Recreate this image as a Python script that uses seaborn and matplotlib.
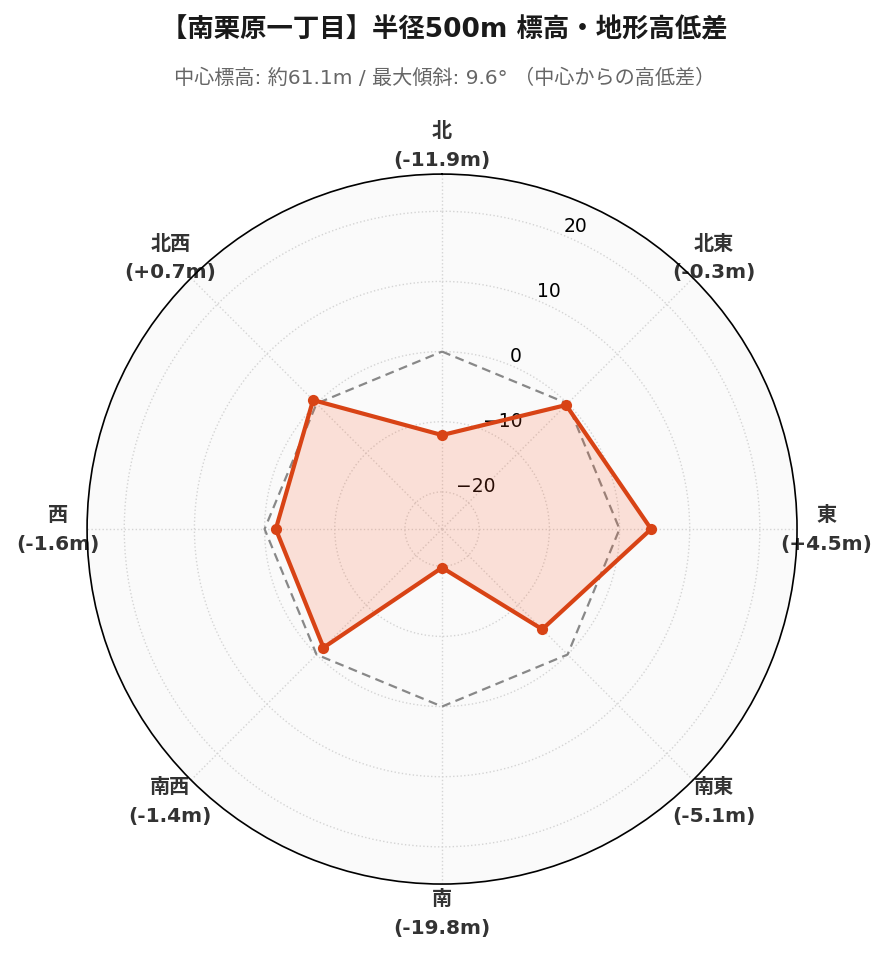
import numpy as np
import pandas as pd
import matplotlib
matplotlib.use("Agg")
import matplotlib.pyplot as plt
import seaborn as sns

# data
directions = ["北", "北東", "東", "南東", "南", "南西", "西", "北西"]
diffs = [-11.9, -0.3, 4.5, -5.1, -19.8, -1.4, -1.6, 0.7]
r_ticks = [-20, -10, 0, 10, 20]
center_elev = 61.1
max_slope = 9.6

LINE = "#d84315"
FILL = "#ff5722"

sns.set_theme(style="white")
plt.rcParams["font.family"] = ["DejaVu Sans", "Noto Sans CJK JP"]

angles = np.deg2rad(np.arange(len(directions)) * 45.0)
# close the ring at 2*pi so the last edge runs NW -> N
df = pd.DataFrame({
    "theta": np.append(angles, 2 * np.pi),
    "diff": diffs + diffs[:1],
})

fig = plt.figure(figsize=(8.89, 9.62), dpi=100)
ax = fig.add_axes([0.0979, 0.080, 0.7987, 0.738], projection="polar")
ax.set_theta_zero_location("N")
ax.set_theta_direction(-1)
ax.set_facecolor("#fafafa")

# zero reference
ax.plot(df["theta"], np.zeros(len(df)), color="#888888", lw=1.6,
        ls=(0, (4, 2.5)), zorder=2)

ax.fill(df["theta"], df["diff"], color=FILL, alpha=0.16, lw=0, zorder=3)
sns.lineplot(data=df, x="theta", y="diff", sort=False, estimator=None,
             ax=ax, color=LINE, lw=3, zorder=4)
sns.scatterplot(data=df.iloc[:-1], x="theta", y="diff", ax=ax, color=LINE,
                s=65, linewidth=0, zorder=5)

ax.set_ylim(-25.3, 25.3)
ax.set_yticks(r_ticks)
ax.set_yticklabels([f"{t}".replace("-", "\u2212") for t in r_ticks],
                   fontsize=13.5, color="black")
ax.set_rlabel_position(22.5)

ax.set_xticks(angles)
labels = [f"{d}\n({v:+.1f}m)" if v > 0 else f"{d}\n({v:.1f}m)"
          for d, v in zip(directions, diffs)]
ax.set_xticklabels(labels, fontsize=14.5, fontweight="bold", color="#333333",
                   linespacing=1.65)
ax.tick_params(axis="x", pad=8)

ax.grid(True, color="#d4d4d4", ls=":", lw=1)
ax.spines["polar"].set_color("black")
ax.spines["polar"].set_linewidth(1.2)
ax.set_xlabel("")
ax.set_ylabel("")

fig.text(0.5, 0.968, "【南栗原一丁目】半径500m 標高・地形高低差",
         ha="center", va="center", fontsize=19, fontweight="bold", color="#1a1a1a")
fig.text(0.5, 0.919,
         f"中心標高: 約{center_elev}m / 最大傾斜: {max_slope}° （中心からの高低差）",
         ha="center", va="center", fontsize=14.5, color="#666666")

fig.savefig("out.png", dpi=100, facecolor="white")
